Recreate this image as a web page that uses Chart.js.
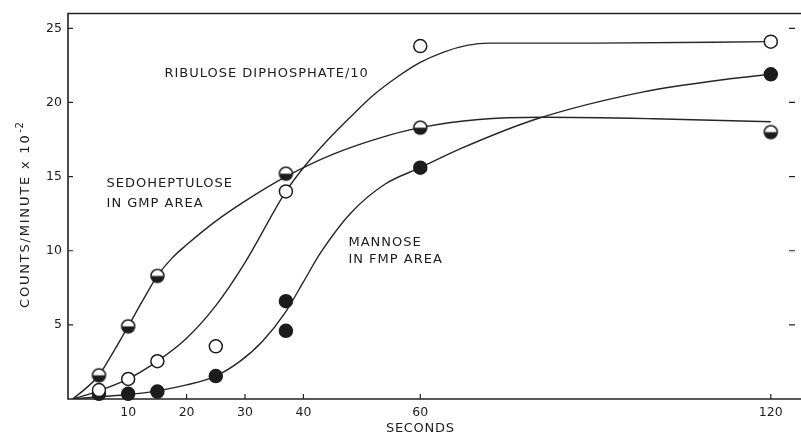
<!DOCTYPE html>
<html>
<head>
<meta charset="utf-8">
<script src="https://cdn.jsdelivr.net/npm/chart.js@4.4.1/dist/chart.umd.min.js"></script>
<style>
  html, body { margin: 0; padding: 0; background: #fff; }
</style>
</head>
<body>
<canvas id="grafico" width="801" height="439"></canvas>
<script>
// pontos medidos (segundos, contagens/minuto x 10^-2)
const tempoSedo = [5, 10, 15, 37, 60, 120];
const valorSedo = [1.6, 4.9, 8.3, 15.2, 18.3, 18.0];

const tempoRibulose = [5, 10, 15, 25, 37, 60, 120];
const valorRibulose = [0.6, 1.35, 2.55, 3.55, 14.0, 23.8, 24.1];

const tempoManose = [5, 10, 15, 25, 37, 37, 60, 120];
const valorManose = [0.35, 0.35, 0.5, 1.55, 6.6, 4.6, 15.6, 21.9];

// curvas tracadas a mao no original (lidas ao longo do traco)
const curvaSedoT = [0.5, 3, 5, 7.5, 10, 12.5, 15, 17.5, 20, 25, 31, 37, 45, 53, 60, 70, 81, 100, 120];
const curvaSedoV = [0, 0.8, 1.6, 3.2, 4.9, 6.65, 8.3, 9.5, 10.4, 12.0, 13.6, 15.0, 16.5, 17.6, 18.3, 18.85, 19.0, 18.9, 18.7];

const curvaRibT = [0.5, 5, 10, 15, 20, 25, 30, 37, 40, 44, 48, 52, 56, 60, 64, 68, 72, 90, 120];
const curvaRibV = [0, 0.55, 1.35, 2.55, 4.1, 6.3, 9.2, 14.0, 15.6, 17.4, 19.0, 20.5, 21.7, 22.7, 23.4, 23.85, 24.0, 24.0, 24.1];

const curvaManT = [0.5, 5, 10, 15, 20, 25, 29, 33, 37, 40, 43, 48, 54, 60, 67, 80, 98, 113, 120];
const curvaManV = [0, 0.15, 0.3, 0.55, 0.95, 1.55, 2.5, 3.9, 5.9, 7.9, 9.9, 12.5, 14.5, 15.6, 16.9, 18.9, 20.7, 21.6, 21.9];

const ticksX = [10, 20, 30, 40, 60, 120];
const ticksY = [5, 10, 15, 20, 25];

const rotulos = ['RIBULOSE DIPHOSPHATE/10', 'SEDOHEPTULOSE', 'IN GMP AREA', 'MANNOSE', 'IN FMP AREA'];

// onde ficam os rotulos (em unidades dos eixos)
const rotuloPos = [[16.2, 21.95], [6.3, 14.55], [6.3, 13.2], [47.7, 10.57], [47.7, 9.43]];

const tinta = '#1c1c1c';
const fonte = '"DejaVu Sans", sans-serif';

const pares = (t, v) => t.map((x, i) => ({ x: x, y: v[i] }));

// marcador meio cheio (metade de baixo preta)
function meioCheio(r) {
  const c = document.createElement('canvas');
  const s = Math.ceil(r * 2 + 4);
  c.width = s; c.height = s;
  const g = c.getContext('2d');
  const m = s / 2;
  g.fillStyle = '#fff';
  g.beginPath(); g.arc(m, m, r, 0, Math.PI * 2); g.fill();
  g.fillStyle = tinta;
  g.beginPath(); g.arc(m, m, r, 0, Math.PI); g.closePath(); g.fill();
  g.strokeStyle = tinta; g.lineWidth = 1.5;
  g.beginPath(); g.arc(m, m, r, 0, Math.PI * 2); g.stroke();
  return c;
}

const curva = (dados) => ({
  type: 'line',
  data: dados,
  showLine: true,
  borderColor: '#262626',
  borderWidth: 1.4,
  pointRadius: 0,
  cubicInterpolationMode: 'monotone',
  fill: false,
  order: 2
});

const pontos = (dados, estilo) => Object.assign({
  type: 'scatter',
  data: dados,
  showLine: false,
  pointRadius: 6.5,
  borderWidth: 1.5,
  borderColor: tinta,
  clip: false,
  order: 1
}, estilo);

const moldura = {
  id: 'moldura',
  beforeDatasetsDraw(chart) {
    const { ctx, chartArea: a, scales: { x, y } } = chart;
    ctx.save();
    ctx.strokeStyle = '#222';
    ctx.lineWidth = 1.6;
    ctx.beginPath();
    ctx.moveTo(chart.width, a.top);
    ctx.lineTo(a.left, a.top);
    ctx.lineTo(a.left, a.bottom);
    ctx.lineTo(chart.width, a.bottom);
    ctx.stroke();

    ctx.lineWidth = 1.2;
    ctx.beginPath();
    ticksX.forEach(v => {
      const px = x.getPixelForValue(v);
      ctx.moveTo(px, a.bottom);
      ctx.lineTo(px, a.bottom - 5);
    });
    ticksY.forEach(v => {
      const py = y.getPixelForValue(v);
      ctx.moveTo(a.left, py);
      ctx.lineTo(a.left + 5, py);
      ctx.moveTo(a.right + 2, py);
      ctx.lineTo(a.right - 4, py);
    });
    ctx.stroke();
    ctx.restore();
  },
  afterDraw(chart) {
    const { ctx, chartArea: a, scales: { x, y } } = chart;
    ctx.save();
    ctx.fillStyle = tinta;
    ctx.font = '13px ' + fonte;
    ctx.letterSpacing = '1px';
    ctx.textBaseline = 'middle';
    ctx.textAlign = 'left';
    rotulos.forEach((txt, i) => {
      ctx.fillText(txt, x.getPixelForValue(rotuloPos[i][0]), y.getPixelForValue(rotuloPos[i][1]));
    });

    // titulo do eixo x
    ctx.letterSpacing = '0.7px';
    ctx.textAlign = 'center';
    ctx.fillText('SECONDS', x.getPixelForValue(60), a.bottom + 30);

    // titulo do eixo y com expoente
    ctx.translate(26, a.bottom - 91);
    ctx.rotate(-Math.PI / 2);
    ctx.textAlign = 'left';
    ctx.letterSpacing = '1.8px';
    const principal = 'COUNTS/MINUTE x 10';
    ctx.fillText(principal, 0, 0);
    const w = ctx.measureText(principal).width;
    ctx.font = '10px ' + fonte;
    ctx.letterSpacing = '0.5px';
    ctx.fillText('-2', w + 1, -6);
    ctx.restore();
  }
};

const ctx = document.getElementById('grafico').getContext('2d');

new Chart(ctx, {
  type: 'scatter',
  data: {
    datasets: [
      curva(pares(curvaSedoT, curvaSedoV)),
      curva(pares(curvaRibT, curvaRibV)),
      curva(pares(curvaManT, curvaManV)),
      pontos(pares(tempoSedo, valorSedo), { pointStyle: meioCheio(6.5), backgroundColor: '#fff' }),
      pontos(pares(tempoRibulose, valorRibulose), { pointStyle: 'circle', backgroundColor: '#fff' }),
      pontos(pares(tempoManose, valorManose), { pointStyle: 'circle', backgroundColor: tinta })
    ]
  },
  options: {
    responsive: false,
    animation: false,
    layout: { padding: { top: 13, right: 4, left: 0, bottom: 0 } },
    plugins: {
      legend: { display: false },
      tooltip: { enabled: false },
      title: { display: false }
    },
    scales: {
      x: {
        type: 'linear',
        min: -0.3,
        max: 123.8,
        afterBuildTicks: s => { s.ticks = ticksX.map(v => ({ value: v })); },
        afterFit: s => { s.height = 40; },
        ticks: {
          color: tinta,
          font: { family: fonte, size: 12.5 },
          padding: 6,
          maxRotation: 0,
          autoSkip: false
        },
        grid: { display: false, drawTicks: false },
        border: { display: false }
      },
      y: {
        min: 0,
        max: 26,
        afterBuildTicks: s => { s.ticks = ticksY.map(v => ({ value: v })); },
        afterFit: s => { s.width = 68; },
        ticks: {
          color: tinta,
          font: { family: fonte, size: 12.5 },
          padding: 6
        },
        grid: { display: false, drawTicks: false },
        border: { display: false }
      }
    }
  },
  plugins: [moldura]
});
</script>
</body>
</html>
